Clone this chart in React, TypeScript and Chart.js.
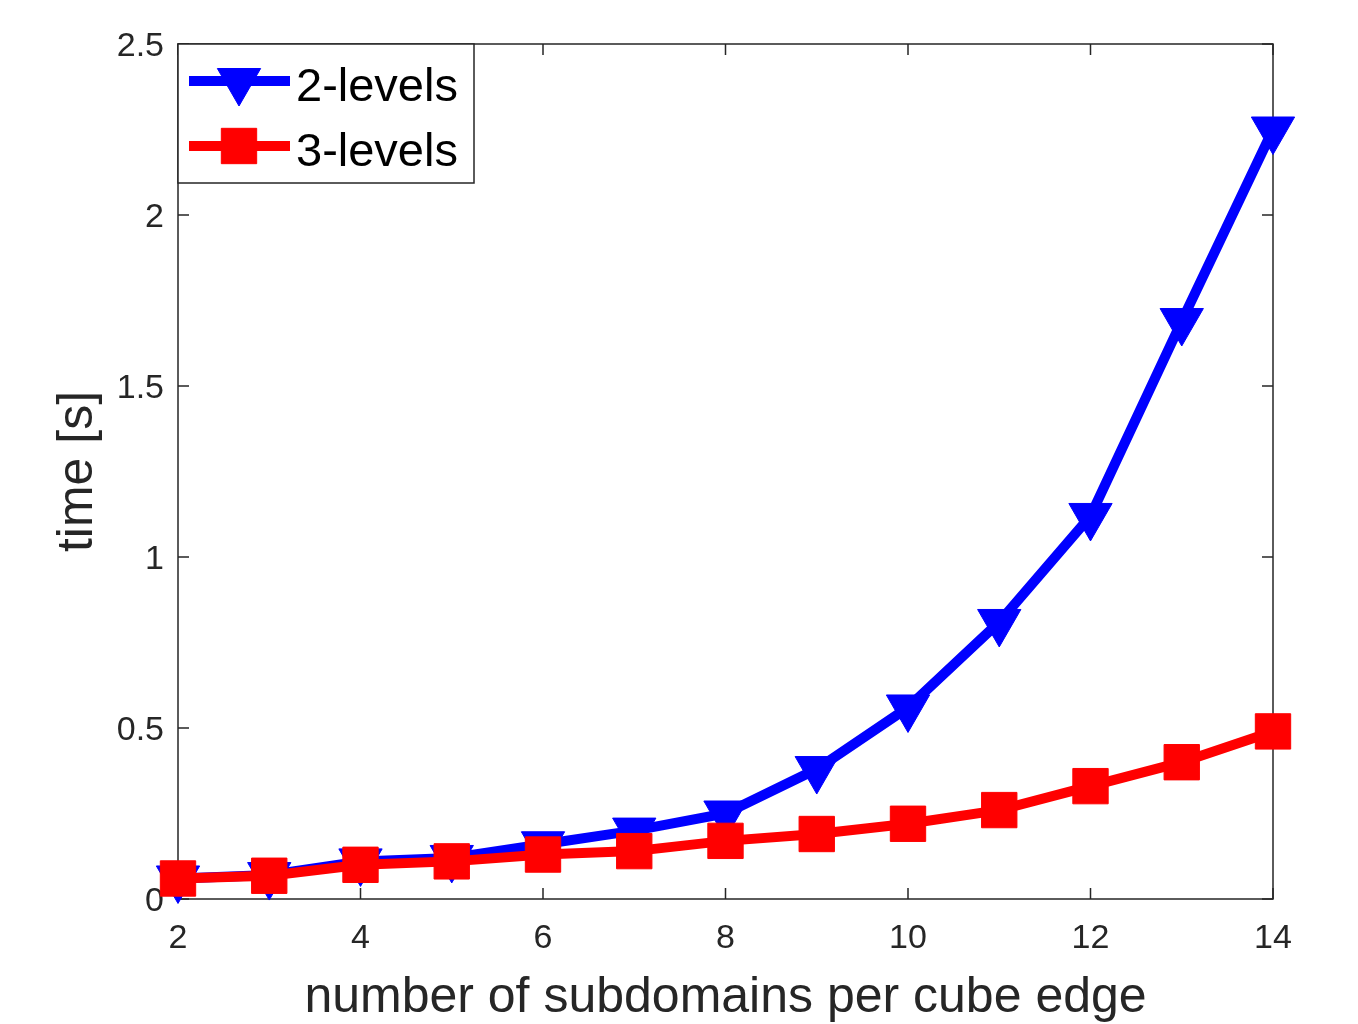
import React, { useEffect, useRef } from "react";
import { Chart, registerables } from "chart.js";

Chart.register(...registerables);

const subdomains = [2, 3, 4, 5, 6, 7, 8, 9, 10, 11, 12, 13, 14];
const twoLevels = [0.06, 0.07, 0.11, 0.12, 0.16, 0.2, 0.25, 0.38, 0.56, 0.81, 1.12, 1.69, 2.25];
const threeLevels = [0.06, 0.068, 0.1, 0.11, 0.13, 0.14, 0.17, 0.19, 0.22, 0.26, 0.33, 0.4, 0.49];
const xTicks = [2, 4, 6, 8, 10, 12, 14];
const yTicks = [0, 0.5, 1, 1.5, 2, 2.5];
const seriesNames = ["2-levels", "3-levels"];
const xTitle = "number of subdomains per cube edge";
const yTitle = "time [s]";

const FONT = '"Liberation Sans", Arial, Helvetica, sans-serif';
const AXIS_COLOR = "#262626";
const BLUE = "#0000ff";
const RED = "#ff0000";

function drawMarker(ctx: CanvasRenderingContext2D, style: string, x: number, y: number, r: number, rotDeg: number) {
  ctx.beginPath();
  if (style === "triangle") {
    let rad = (rotDeg * Math.PI) / 180;
    ctx.moveTo(x + Math.sin(rad) * r, y - Math.cos(rad) * r);
    rad += (2 * Math.PI) / 3;
    ctx.lineTo(x + Math.sin(rad) * r, y - Math.cos(rad) * r);
    rad += (2 * Math.PI) / 3;
    ctx.lineTo(x + Math.sin(rad) * r, y - Math.cos(rad) * r);
    ctx.closePath();
  } else {
    const s = Math.SQRT1_2 * r;
    ctx.rect(x - s, y - s, 2 * s, 2 * s);
  }
  ctx.fill();
  ctx.stroke();
}

const boxPlugin = {
  id: "matlabBox",
  beforeDatasetsDraw(chart: any) {
    const { ctx, chartArea: a, scales } = chart;
    const tl = 11;
    ctx.save();
    ctx.strokeStyle = AXIS_COLOR;
    ctx.lineWidth = 1.5;
    ctx.strokeRect(a.left, a.top, a.right - a.left, a.bottom - a.top);
    ctx.beginPath();
    for (const v of xTicks) {
      const px = scales.x.getPixelForValue(v);
      ctx.moveTo(px, a.bottom);
      ctx.lineTo(px, a.bottom - tl);
      ctx.moveTo(px, a.top);
      ctx.lineTo(px, a.top + tl);
    }
    for (const v of yTicks) {
      const py = scales.y.getPixelForValue(v);
      ctx.moveTo(a.left, py);
      ctx.lineTo(a.left + tl, py);
      ctx.moveTo(a.right, py);
      ctx.lineTo(a.right - tl, py);
    }
    ctx.stroke();
    ctx.restore();
  },
};

const legendPlugin = {
  id: "matlabLegend",
  afterDraw(chart: any) {
    const { ctx, chartArea: a } = chart;
    const left = a.left;
    const top = a.top;
    const w = 296;
    const h = 139;
    ctx.save();
    ctx.fillStyle = "#ffffff";
    ctx.fillRect(left, top, w, h);
    ctx.strokeStyle = AXIS_COLOR;
    ctx.lineWidth = 1.5;
    ctx.strokeRect(left, top, w, h);
    const rows = [
      { name: seriesNames[0], color: BLUE, style: "triangle", rot: 180, y: top + 37 },
      { name: seriesNames[1], color: RED, style: "rect", rot: 0, y: top + 102 },
    ];
    for (const r of rows) {
      ctx.strokeStyle = r.color;
      ctx.lineWidth = 10;
      ctx.lineCap = "butt";
      ctx.beginPath();
      ctx.moveTo(left + 11, r.y);
      ctx.lineTo(left + 112, r.y);
      ctx.stroke();
      ctx.fillStyle = r.color;
      ctx.strokeStyle = r.color;
      ctx.lineWidth = 1;
      drawMarker(ctx, r.style, left + 61, r.y, 25, r.rot);
      ctx.fillStyle = "#000000";
      ctx.font = `47px ${FONT}`;
      ctx.textBaseline = "alphabetic";
      ctx.textAlign = "left";
      ctx.fillText(r.name, left + 118, r.y + 20);
    }
    ctx.restore();
  },
};

export default function App() {
  const ref = useRef<HTMLCanvasElement | null>(null);

  useEffect(() => {
    if (!ref.current) return;
    const chart = new Chart(ref.current, {
      type: "line",
      data: {
        datasets: [
          {
            label: seriesNames[1],
            data: subdomains.map((x, i) => ({ x, y: threeLevels[i] })),
            borderColor: RED,
            backgroundColor: RED,
            borderWidth: 10,
            pointStyle: "rect",
            pointRadius: 25,
            pointBackgroundColor: RED,
            pointBorderColor: RED,
            pointBorderWidth: 1,
            tension: 0,
            clip: false as any,
          },
          {
            label: seriesNames[0],
            data: subdomains.map((x, i) => ({ x, y: twoLevels[i] })),
            borderColor: BLUE,
            backgroundColor: BLUE,
            borderWidth: 10,
            pointStyle: "triangle",
            pointRotation: 180,
            pointRadius: 25,
            pointBackgroundColor: BLUE,
            pointBorderColor: BLUE,
            pointBorderWidth: 1,
            tension: 0,
            clip: false as any,
          },
        ],
      },
      options: {
        animation: false,
        responsive: false,
        devicePixelRatio: 1,
        layout: { padding: { top: 44, right: 85, left: 0, bottom: 0 } },
        plugins: { legend: { display: false }, tooltip: { enabled: false } },
        scales: {
          x: {
            type: "linear",
            min: 2,
            max: 14,
            grid: { display: false, drawTicks: false },
            border: { display: false },
            afterBuildTicks: (scale: any) => {
              scale.ticks = xTicks.map((v) => ({ value: v }));
            },
            afterFit: (scale: any) => {
              scale.height = 125;
            },
            ticks: {
              color: AXIS_COLOR,
              font: { family: FONT, size: 34 },
              padding: 19,
              maxRotation: 0,
              callback: (v: any) => String(v),
            },
            title: {
              display: true,
              text: xTitle,
              color: AXIS_COLOR,
              font: { family: FONT, size: 50, lineHeight: 1 },
              padding: { top: 0, bottom: 1 },
            },
          },
          y: {
            type: "linear",
            min: 0,
            max: 2.5,
            grid: { display: false, drawTicks: false },
            border: { display: false },
            afterBuildTicks: (scale: any) => {
              scale.ticks = yTicks.map((v) => ({ value: v }));
            },
            afterFit: (scale: any) => {
              scale.width = 178;
            },
            ticks: {
              color: AXIS_COLOR,
              font: { family: FONT, size: 34 },
              padding: 14,
              labelOffset: 3,
              callback: (v: any) => String(v),
            },
            title: {
              display: true,
              text: yTitle,
              color: AXIS_COLOR,
              font: { family: FONT, size: 50, lineHeight: 1 },
              padding: { top: 53, bottom: 0 },
            },
          },
        },
      },
      plugins: [boxPlugin, legendPlugin],
    });
    return () => chart.destroy();
  }, []);

  return (
    <div style={{ position: "absolute", left: 0, top: 0, width: 1358, height: 1024, background: "#fff" }}>
      <canvas ref={ref} width={1358} height={1024} style={{ width: 1358, height: 1024, display: "block" }} />
    </div>
  );
}
